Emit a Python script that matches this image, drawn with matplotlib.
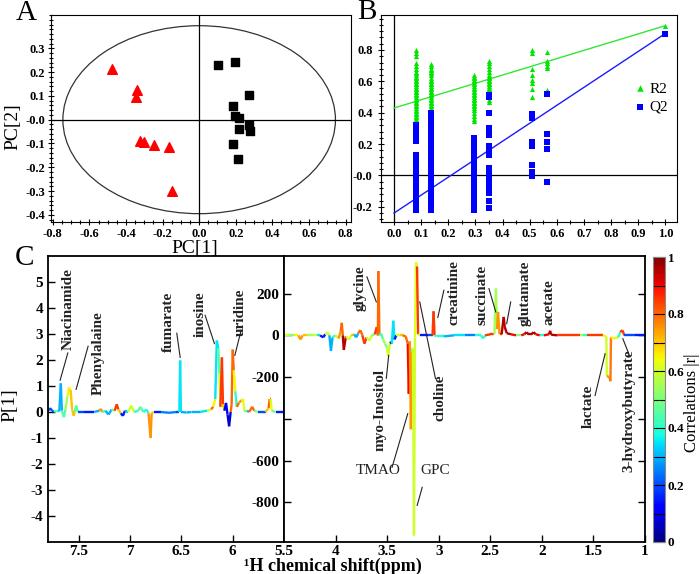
import matplotlib
matplotlib.use('Agg')
import matplotlib.pyplot as plt
import numpy as np
from matplotlib.collections import LineCollection
from matplotlib.patches import Ellipse
from matplotlib.ticker import MultipleLocator

plt.rcParams['font.family'] = ['Liberation Serif', 'DejaVu Serif']
plt.rcParams['axes.unicode_minus'] = False

# ---- panel A: PCA scores
red_pc1 = [-0.477, -0.341, -0.348, -0.323, -0.301, -0.247, -0.167, -0.151]
red_pc2 = [0.213, 0.125, 0.094, -0.091, -0.095, -0.105, -0.116, -0.301]
black_pc1 = [0.102, 0.196, 0.270, 0.185, 0.196, 0.218, 0.270, 0.279, 0.218, 0.185, 0.212]
black_pc2 = [0.230, 0.244, 0.104, 0.057, 0.014, 0.007, -0.021, -0.046, -0.041, -0.102, -0.164]
t2_radius = [0.745, 0.395]
a_xticks = [-0.8, -0.6, -0.4, -0.2, 0.0, 0.2, 0.4, 0.6, 0.8]
a_xlabels = ['-0.8', '-0.6', '-0.4', '-0.2', '0.0', '0.2', '0.4', '0.6', '0.8']
a_yticks = [-0.4, -0.3, -0.2, -0.1, 0.0, 0.1, 0.2, 0.3]
a_ylabels = ['-0.4', '-0.3', '-0.2', '-0.1', '-0.0', '0.1', '0.2', '0.3']

# ---- panel B: permutation test
perm_x = [0.081, 0.135, 0.294, 0.349, 0.509, 0.564, 1.0]
r2_vals = [
    [0.80, 0.78, 0.76, 0.72, 0.70, 0.68, 0.66, 0.65, 0.64, 0.63, 0.62, 0.61, 0.60, 0.59, 0.58,
     0.57, 0.56, 0.55, 0.54, 0.53, 0.52, 0.51, 0.50, 0.49, 0.48, 0.47, 0.46, 0.45, 0.44, 0.43,
     0.42, 0.41, 0.40, 0.39, 0.38, 0.37, 0.36, 0.35],
    [0.71, 0.70, 0.68, 0.67, 0.66, 0.65, 0.64, 0.62, 0.61, 0.60, 0.59, 0.58, 0.57, 0.56, 0.55,
     0.54, 0.53, 0.52, 0.51, 0.50, 0.49, 0.48, 0.47, 0.46, 0.45, 0.44, 0.43, 0.41, 0.39, 0.37],
    [0.64, 0.63, 0.62, 0.61, 0.60, 0.59, 0.58, 0.57, 0.56, 0.55, 0.54, 0.53, 0.52, 0.51, 0.50,
     0.49, 0.48, 0.47, 0.46, 0.45, 0.44, 0.43, 0.42, 0.40, 0.38, 0.36, 0.35],
    [0.73, 0.72, 0.70, 0.68, 0.66, 0.64, 0.63, 0.62, 0.61, 0.60, 0.59, 0.58, 0.57, 0.56, 0.55,
     0.54, 0.52, 0.50, 0.48, 0.47],
    [0.80, 0.78, 0.68, 0.64, 0.61, 0.59, 0.55, 0.50],
    [0.79, 0.73, 0.715, 0.695, 0.685, 0.545],
    [0.955],
]
q2_vals = [
    [0.32, 0.30, 0.28, 0.25, 0.23, 0.22, 0.13, 0.11, 0.09, 0.08, 0.05, 0.03, 0.01, -0.01, -0.03,
     -0.05, -0.07, -0.09, -0.11, -0.13, -0.15, -0.17, -0.19, -0.21, -0.22],
    [0.40, 0.38, 0.36, 0.34, 0.32, 0.30, 0.28, 0.26, 0.24, 0.21, 0.19, 0.16, 0.14, 0.12, 0.10,
     0.07, 0.05, 0.03, 0.01, -0.01, -0.03, -0.05, -0.07, -0.09, -0.11, -0.13, -0.15, -0.17,
     -0.19, -0.21, -0.22],
    [0.24, 0.22, 0.20, 0.18, 0.16, 0.14, 0.12, 0.10, 0.08, 0.06, 0.04, 0.02, 0.00, -0.02, -0.04,
     -0.06, -0.08, -0.10, -0.12, -0.14, -0.16, -0.18, -0.20, -0.22],
    [0.51, 0.50, 0.40, 0.30, 0.28, 0.26, 0.19, 0.17, 0.15, 0.13, 0.05, 0.03, 0.01, -0.01, -0.03,
     -0.05, -0.07, -0.09, -0.11, -0.16, -0.21],
    [0.39, 0.365, 0.21, 0.185, 0.065, 0.02, -0.005],
    [0.52, 0.265, 0.21, 0.17, -0.04],
    [0.905],
]
line_x = [0.0, 1.0]
r2_line = [0.43, 0.955]
q2_line = [-0.24, 0.905]
b_xticks = [0.0, 0.1, 0.2, 0.3, 0.4, 0.5, 0.6, 0.7, 0.8, 0.9, 1.0]
b_yticks = [-0.2, 0.0, 0.2, 0.4, 0.6, 0.8]
b_ylabels = ['-0.2', '-0.0', '0.2', '0.4', '0.6', '0.8']

# ---- panel C: loadings (ppm, P[1], |r|)
left_ppm = [7.80, 7.78, 7.76, 7.74, 7.72, 7.69, 7.675, 7.665, 7.645, 7.63, 7.61, 7.595, 7.58,
            7.565, 7.55, 7.54, 7.525, 7.51, 7.45, 7.35, 7.30, 7.285, 7.27, 7.24, 7.21, 7.18,
            7.15, 7.13, 7.115, 7.09, 7.07, 7.05, 7.02, 6.99, 6.96, 6.92, 6.90, 6.87, 6.84,
            6.82, 6.80, 6.79, 6.77, 6.70, 6.62, 6.55, 6.52, 6.512, 6.505, 6.45, 6.40, 6.32,
            6.25, 6.21, 6.19, 6.17, 6.155, 6.14, 6.13, 6.12, 6.105, 6.095, 6.08, 6.065, 6.05,
            6.035, 6.02, 6.01, 6.0, 5.99, 5.975, 5.96, 5.94, 5.915, 5.90, 5.885, 5.86, 5.84,
            5.81, 5.79, 5.75, 5.68, 5.65, 5.64, 5.63, 5.62, 5.58, 5.50]
left_val = [0.05, 0.15, 0.05, 0.0, 0.05, 0.02, 1.1, 0.05, -0.2, 0.1, 0.6, 0.95, 0.85,
            0.1, -0.15, 0.0, 0.25, 0.0, 0.0, 0.0, 0.05, 0.12, 0.0, 0.05, -0.1, 0.1,
            0.05, 0.3, 0.1, -0.05, -0.15, 0.05, 0.0, 0.25, 0.0, 0.05, 0.2, 0.0, 0.1,
            -0.05, -1.0, -0.05, 0.0, 0.0, -0.03, 0.0, 0.0, 1.98, 0.0, -0.02, 0.0, 0.0,
            0.05, 0.1, 0.2, 0.5, 2.75, 2.45, 1.5, 0.2, 2.1, 0.3, 0.05, 0.35, -0.1,
            -0.55, 0.0, 0.3, 2.4, 1.6, 0.8, 0.2, 0.35, 0.45, 0.5, 0.05, 0.05, 0.0,
            0.2, 0.05, 0.0, 0.0, 0.15, 0.5, 0.5, 0.05, 0.0, 0.0]
left_r = [0.15, 0.2, 0.2, 0.3, 0.45, 0.3, 0.3, 0.3, 0.45, 0.5, 0.55, 0.65, 0.7,
          0.65, 0.7, 0.6, 0.45, 0.2, 0.15, 0.12, 0.3, 0.75, 0.5, 0.45, 0.3, 0.5,
          0.4, 0.85, 0.7, 0.4, 0.15, 0.3, 0.4, 0.6, 0.45, 0.4, 0.45, 0.35, 0.4,
          0.5, 0.75, 0.7, 0.15, 0.15, 0.25, 0.2, 0.35, 0.35, 0.35, 0.3, 0.3, 0.25,
          0.35, 0.6, 0.8, 0.65, 0.35, 0.45, 0.6, 0.65, 0.85, 0.7, 0.3, 0.1, 0.1,
          0.08, 0.15, 0.8, 0.8, 0.65, 0.4, 0.45, 0.8, 0.75, 0.62, 0.5, 0.3, 0.25,
          0.8, 0.5, 0.2, 0.15, 0.7, 0.8, 0.62, 0.5, 0.15, 0.12]

right_ppm = [4.50, 4.45, 4.40, 4.36, 4.34, 4.32, 4.28, 4.22, 4.18, 4.15, 4.12, 4.10, 4.08,
             4.06, 4.045, 4.03, 4.00, 3.97, 3.95, 3.94, 3.93, 3.92, 3.90, 3.87, 3.85, 3.82,
             3.80, 3.78, 3.76, 3.74, 3.72, 3.70, 3.67, 3.65, 3.62, 3.60, 3.59, 3.585, 3.575,
             3.56, 3.54, 3.52, 3.50, 3.49, 3.47, 3.455, 3.44, 3.43, 3.41, 3.38, 3.35, 3.32,
             3.30, 3.29, 3.28, 3.27, 3.26, 3.25, 3.24, 3.23, 3.22, 3.21, 3.20, 3.18, 3.10,
             3.06, 3.05, 3.04, 3.02, 2.95, 2.85, 2.75, 2.65, 2.59, 2.57, 2.55, 2.50, 2.46,
             2.445, 2.435, 2.425, 2.41, 2.39, 2.37, 2.36, 2.34, 2.30, 2.25, 2.20, 2.17, 2.15,
             2.13, 2.10, 2.08, 2.06, 2.02, 1.98, 1.93, 1.92, 1.91, 1.85, 1.70, 1.63, 1.60,
             1.56, 1.45, 1.41, 1.38, 1.375, 1.37, 1.345, 1.335, 1.33, 1.30, 1.26, 1.24, 1.22,
             1.20, 1.10, 1.00]
right_val = [0, 0, 0, 0, -20, 0, 0, 0, 0, 0, -10, 5, 15,
             0, -75, -10, 0, -15, 20, 60, 0, -70, -5, -20, 0, 5,
             -10, 10, 25, 0, -40, -10, -25, 0, 5, 40, 0, 308, 0,
             10, -20, -40, -60, -100, -30, -40, 70, -20, 0, 0, 0, -5,
             -40, -280, -30, -450, -80, -60, -959, -10, 351, 330, 5, 0, 0,
             0, 115, 0, -5, -5, 0, 0, 0, 0, -15, 0, 5, 5,
             224, 30, 112, 5, 5, 88, 40, 10, 5, 0, 0, 5, 15,
             5, 5, 15, 5, 0, 0, 5, 22, 3, 0, 0, 0, 0,
             0, 0, 0, -5, -5, -195, -200, -220, -10, -15, -10, 15, 25,
             0, 0, 0]
right_r = [0.6, 0.5, 0.65, 0.4, 0.75, 0.7, 0.55, 0.6, 0.35, 0.7, 0.15, 0.5, 0.6,
           0.5, 0.3, 0.4, 0.45, 0.6, 0.75, 0.8, 0.85, 0.95, 0.7, 0.6, 0.55, 0.7,
           0.3, 0.6, 0.8, 0.75, 0.85, 0.7, 0.6, 0.4, 0.5, 0.85, 0.8, 0.8, 0.8,
           0.4, 0.45, 0.55, 0.5, 0.6, 0.3, 0.05, 0.35, 0.15, 0.6, 0.7, 0.75, 0.8,
           0.8, 0.9, 0.8, 0.75, 0.4, 0.35, 0.6, 0.6, 0.62, 0.85, 0.6, 0.15, 0.2,
           0.8, 0.85, 0.85, 0.4, 0.3, 0.35, 0.25, 0.4, 0.35, 0.4, 0.3, 0.85, 0.9,
           0.55, 0.75, 0.75, 0.85, 0.95, 0.95, 0.95, 0.95, 0.9, 0.5, 0.15, 0.9, 0.95,
           0.95, 0.95, 0.95, 0.9, 0.4, 0.85, 0.9, 0.95, 0.95, 0.85, 0.85, 0.55, 0.4,
           0.85, 0.85, 0.6, 0.65, 0.6, 0.6, 0.75, 0.78, 0.7, 0.65, 0.5, 0.4, 0.85,
           0.2, 0.15, 0.2]

# name, text pos (ppm, value), leader line start, leader line end, rotation
left_notes = [
    ('Niacinamide', (7.604, 3.95), (7.682, 1.22), (7.607, 2.27), 90),
    ('Phenylalaine', (7.309, 2.28), (7.526, 0.87), (7.409, 2.53), 90),
    ('fumarate', (6.629, 3.47), (6.512, 2.10), (6.545, 3.03), 90),
    ('inosine', (6.318, 3.78), (6.178, 2.63), (6.269, 3.72), 90),
    ('uridine', (5.927, 3.82), (5.979, 2.18), (5.918, 3.14), 90),
]
right_notes = [
    ('glycine', (3.761, 225), (3.605, 160), (3.696, 280), 90),
    ('myo-Inositol', (3.566, -355), (3.485, -96), (3.508, -206), 90),
    ('TMAO', (3.583, -648), (3.30, -375), (3.452, -632), 0),
    ('GPC', (3.031, -648), (3.209, -815), (3.160, -728), 0),
    ('choline', (2.983, -297), (3.184, 160), (3.031, -208), 90),
    ('creatinine', (2.853, 204), (3.009, 85), (2.950, 216), 90),
    ('succinate', (2.577, 192), (2.447, 112), (2.513, 224), 90),
    ('glutamate', (2.165, 201), (2.341, 56), (2.302, 160), 90),
    ('acetate', (1.929, 158), None, None, 90),
    ('lactate', (1.555, -340), (1.387, -88), (1.484, -288), 90),
    ('3-hydroxybutyrate', (1.151, -360), (1.215, -16), (1.151, -96), 90),
]

fig = plt.figure(figsize=(7, 5.74), dpi=100)
W, H = 700.0, 574.0


def box(l, t, r, b):
    return [l / W, 1 - b / H, (r - l) / W, (b - t) / H]


def bold_ticks(ax, size):
    for lab in ax.get_xticklabels() + ax.get_yticklabels():
        lab.set_fontweight('bold')
        lab.set_fontsize(size)


# ---------------- A
axA = fig.add_axes(box(51, 15, 351, 222))
axA.add_patch(Ellipse((0, 0), 2 * t2_radius[0], 2 * t2_radius[1], fill=False, ec='#333333', lw=0.9))
axA.axhline(0, color='black', lw=0.9)
axA.axvline(0, color='black', lw=0.9)
axA.scatter(red_pc1, red_pc2, marker='^', s=48, color='#ff0000', zorder=3)
axA.scatter(black_pc1, black_pc2, marker='s', s=32, color='black', zorder=3)
axA.set_xlim(-0.81, 0.83)
axA.set_ylim(-0.43, 0.44)
axA.set_xticks(a_xticks)
axA.set_xticklabels(a_xlabels)
axA.set_yticks(a_yticks)
axA.set_yticklabels(a_ylabels)
axA.yaxis.set_minor_locator(MultipleLocator(0.02))
axA.xaxis.set_minor_locator(MultipleLocator(0.05))
axA.tick_params(which='both', direction='inout', length=5, width=0.8)
axA.tick_params(which='minor', length=3)
axA.tick_params(axis='x', pad=2)
axA.tick_params(axis='y', pad=2)
bold_ticks(axA, 9)
fig.text(13 / W, 1 - 127 / H, 'PC[2]', rotation=90, ha='center', va='center', fontsize=14)
fig.text(195 / W, 1 - 248 / H, 'PC[1]', ha='center', va='center', fontsize=14)
fig.text(26 / W, 1 - 13 / H, 'A', ha='center', va='center', fontsize=21)

# ---------------- B
axB = fig.add_axes(box(381, 15, 677, 222))
axB.axhline(0, color='black', lw=0.9)
axB.axvline(0, color='black', lw=0.9)
axB.plot(line_x, r2_line, color='#33e633', lw=1.0)
axB.plot(line_x, q2_line, color='#1a1aff', lw=1.0)
for px, rv, qv in zip(perm_x, r2_vals, q2_vals):
    axB.scatter([px] * len(rv), rv, marker='^', s=14, color='#00e600', lw=0, zorder=3)
    axB.scatter([px] * len(qv), qv, marker='s', s=13, color='#0000ff', lw=0, zorder=3)
hR = axB.scatter([], [], marker='^', s=22, color='#00e600', lw=0, label='R2')
hQ = axB.scatter([], [], marker='s', s=18, color='#0000ff', lw=0, label='Q2')
axB.legend(handles=[hR, hQ], loc='center left', bbox_to_anchor=(0.855, 0.6), frameon=False,
           fontsize=11, handletextpad=0.2, labelspacing=0.3, handlelength=0.8,
           borderaxespad=0, borderpad=0)
axB.set_xlim(-0.048, 1.043)
axB.set_ylim(-0.297, 1.023)
axB.set_xticks(b_xticks)
axB.set_xticklabels(['%.1f' % v for v in b_xticks])
axB.set_yticks(b_yticks)
axB.set_yticklabels(b_ylabels)
axB.yaxis.set_minor_locator(MultipleLocator(0.04))
axB.xaxis.set_minor_locator(MultipleLocator(0.05))
axB.tick_params(which='both', direction='inout', length=5, width=0.8)
axB.tick_params(which='minor', length=3)
axB.tick_params(axis='x', pad=2)
bold_ticks(axB, 9)
fig.text(367 / W, 1 - 12 / H, 'B', ha='center', va='center', fontsize=21)

# ---------------- C
norm = plt.Normalize(0, 1)


def draw_spectrum(ax, ppm, val, r):
    pts = np.column_stack([ppm, val])
    segs = np.stack([pts[:-1], pts[1:]], axis=1)
    r = np.asarray(r, dtype=float)
    v = np.abs(np.asarray(val, dtype=float))
    seg_r = np.where(v[1:] > v[:-1], r[1:], r[:-1])
    lc = LineCollection(segs, cmap='jet', norm=norm, linewidths=1.7)
    lc.set_array(seg_r)
    ax.add_collection(lc)


def add_notes(ax, notes, size):
    for name, tpos, p0, p1, rot in notes:
        ax.text(tpos[0], tpos[1], name, rotation=rot, ha='center', va='center',
                fontsize=size, color='#222222', fontweight='bold' if rot else 'normal')
        if p0 is not None:
            ax.plot([p0[0], p1[0]], [p0[1], p1[1]], color='#222222', lw=0.8)


axCL = fig.add_axes(box(48, 256, 284, 542))
axCR = fig.add_axes(box(284, 256, 645, 542))
draw_spectrum(axCL, left_ppm, left_val, left_r)
draw_spectrum(axCR, right_ppm, right_val, right_r)
add_notes(axCL, left_notes, 11)
add_notes(axCR, right_notes, 11)

axCL.set_xlim(7.8, 5.5)
axCL.set_ylim(-5, 6)
axCL.set_xticks([7.5, 7, 6.5, 6, 5.5])
axCL.set_xticklabels(['7.5', '7', '6.5', '6', '5.5'])
axCL.set_yticks([-4, -3, -2, -1, 0, 1, 2, 3, 4, 5])
axCL.tick_params(direction='in', length=5, width=1)

axCR.set_xlim(4.5, 1.0)
axCR.set_ylim(-990, 380)
axCR.set_xticks([4, 3.5, 3, 2.5, 2, 1.5, 1])
axCR.set_xticklabels(['4', '3.5', '3', '2.5', '2', '1.5', '1'])
axCR.set_yticks([-800, -600, -400, -200, 0, 200])
axCR.set_yticklabels(['-800', '-600', '', '-200', '0', '200'])
axCR.tick_params(direction='in', length=5, width=1, right=True)
for ax in (axCL, axCR):
    for sp in ax.spines.values():
        sp.set_linewidth(1.3)
    ax.tick_params(axis='x', pad=2)
    bold_ticks(ax, 11)

fig.text(10 / W, 1 - 405 / H, 'P[1]', rotation=90, ha='center', va='center', fontsize=14)
fig.text(333 / W, 1 - 566 / H, '¹H chemical shift(ppm)', ha='center', va='center',
         fontsize=13, fontweight='bold')
fig.text(25 / W, 1 - 258 / H, 'C', ha='center', va='center', fontsize=21)

cax = fig.add_axes(box(653, 257, 665, 542))
sm = plt.cm.ScalarMappable(norm=norm, cmap='jet')
cb = fig.colorbar(sm, cax=cax)
cb.set_ticks([0, 0.2, 0.4, 0.6, 0.8, 1])
cb.set_ticklabels(['0', '0.2', '0.4', '0.6', '0.8', '1'])
cb.ax.yaxis.set_minor_locator(MultipleLocator(0.1))
cb.ax.tick_params(which='both', direction='in', length=4, width=0.8, left=True, pad=2)
cb.outline.set_edgecolor('#888888')
cb.outline.set_linewidth(0.8)
bold_ticks(cb.ax, 9.5)
fig.text(692 / W, 1 - 403 / H, 'Correlations |r|', rotation=90, ha='center', va='center',
         fontsize=12)

fig.savefig('out.png', dpi=100)
